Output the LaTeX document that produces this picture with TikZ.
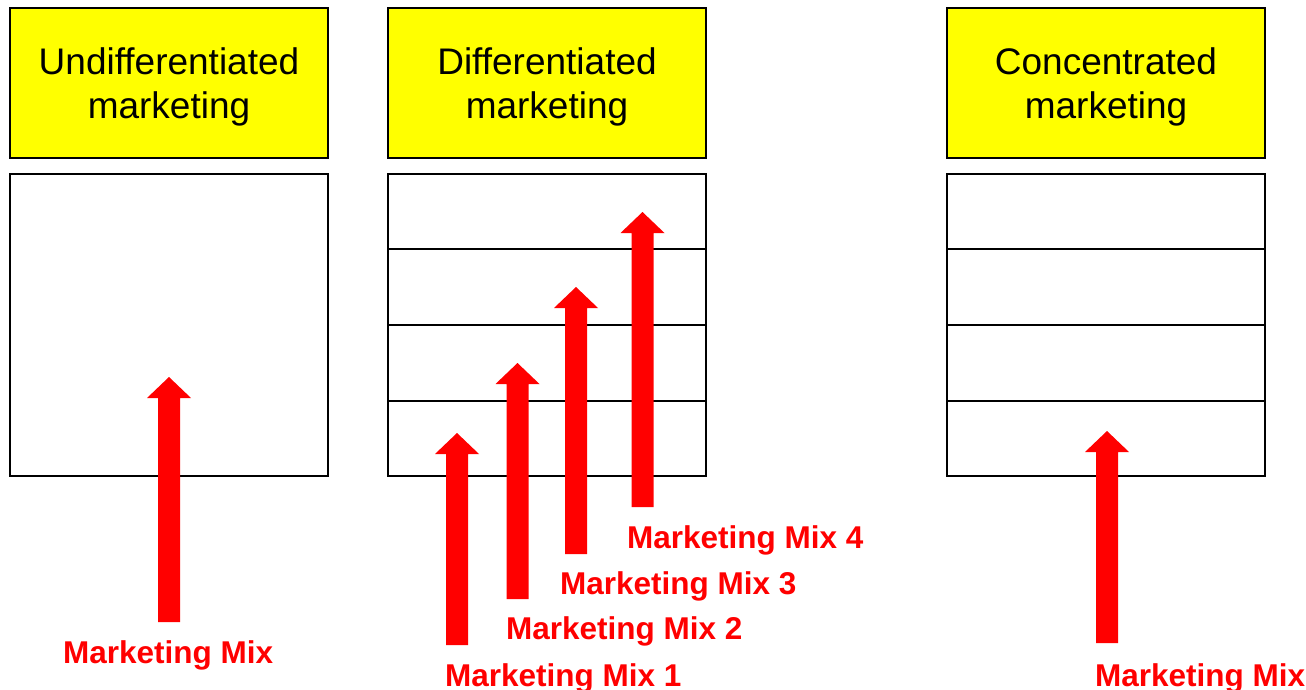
\documentclass[tikz,border=0pt]{standalone}
\usepackage{fontspec}
\setmainfont{Liberation Sans}
\usetikzlibrary{calc}
\definecolor{mixred}{RGB}{255,0,0}
\definecolor{headyellow}{RGB}{255,255,0}

% Upward block arrow: #1 name, #2 x of the shaft axis, #3 y of the foot, #4 y of the tip
\newcommand\mixarrow[4]{%
  \coordinate (#1-foot) at (#2,#3);
  \coordinate (#1-tip) at (#2,#4);
  \fill[mixred] (#2-11,#3) -- (#2+11,#3) -- (#2+11,#4+21) -- (#2+22,#4+21)
    -- (#1-tip) -- (#2-22,#4+21) -- (#2-11,#4+21) -- cycle;}

\begin{document}
\begin{tikzpicture}[x=1pt,y=-1pt,
  headbox/.style={draw=black, line width=2pt, fill=headyellow,
    minimum width=318pt, minimum height=150pt, inner sep=0pt,
    align=center, text depth=0pt, font=\fontsize{37}{44}\selectfont},
  bodybox/.style={draw=black, line width=2pt, fill=white,
    minimum width=318pt, minimum height=302pt, inner sep=0pt},
  divider/.style={draw=black, line width=2pt},
  mixlabel/.style={text=mixred, anchor=base west, inner sep=0pt,
    font=\fontsize{31.5}{36}\selectfont\bfseries}]
\useasboundingbox (0,0) rectangle (1306,690);

% column headings
\node[headbox] (und-head) at (169,83) {Undifferentiated\\marketing};
\node[headbox] (diff-head) at (547,83) {Differentiated\\marketing};
\node[headbox] (conc-head) at (1106,83) {Concentrated\\marketing};

% market boxes
\node[bodybox] (und-body) at (169,325) {};
\node[bodybox] (diff-body) at (547,325) {};
\node[bodybox] (conc-body) at (1106,325) {};

% segment dividers
\foreach \b in {diff-body, conc-body}{
  \foreach \f in {0.25,0.5,0.75}{
    \draw[divider] ($(\b.north west)!\f!(\b.south west)$) -- ($(\b.north east)!\f!(\b.south east)$);
  }
}

% marketing mix arrows
\mixarrow{und-mix}{169}{622}{377}
\mixarrow{mix-one}{457}{645}{433}
\mixarrow{mix-two}{517.5}{599}{363}
\mixarrow{mix-three}{576}{554}{287}
\mixarrow{mix-four}{642.5}{507}{212}
\mixarrow{conc-mix}{1107}{643}{431}

% labels
\node[mixlabel] (und-label) at (63,663) {Marketing Mix};
\node[mixlabel] (one-label) at (445,686) {Marketing Mix 1};
\node[mixlabel] (two-label) at (506,639) {Marketing Mix 2};
\node[mixlabel] (three-label) at (560,594) {Marketing Mix 3};
\node[mixlabel] (four-label) at (627,548) {Marketing Mix 4};
\node[mixlabel] (conc-label) at (1095,686) {Marketing Mix};
\end{tikzpicture}
\end{document}
